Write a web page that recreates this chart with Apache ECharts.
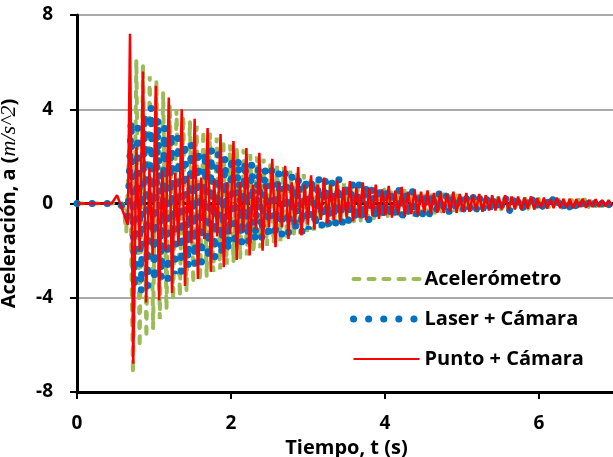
<!DOCTYPE html>
<html>
<head>
    <meta charset="utf-8">
    <script src="https://cdn.jsdelivr.net/npm/echarts@6.0.0/dist/echarts.min.js"></script>
</head>
<body style="margin:0">
    <div id="main" style="width:613px;height:457px;"></div>
    <script type="text/javascript">
        // ticks / names
        var xTicks = [0, 2, 4, 6];
        var yTicks = [-8, -4, 0, 4, 8];
        var seriesNames = ['Acelerómetro', 'Laser + Cámara', 'Punto + Cámara'];

        // Acelerómetro: flat start, then extrema sampled every accelStep s
        var accelLead = [[0, 0], [0.6, 0]];
        var accelStart = 0.64, accelStep = 0.0435;
        var accelPeaks = [
            -1.2, 3.0, -7.2, 6.1, -6.1, 5.9, -5.7, 5.4, -5.3, 5.2, -4.9, 4.7,
            -4.5, 4.2, -4.1, 4.0, -3.95, 3.7, -3.75, 3.5, -3.4, 3.3, -3.3, 3.1,
            -3.1, 3.0, -2.9, 2.8, -2.8, 2.7, -2.6, 2.5, -2.5, 2.4, -2.3, 2.3,
            -2.2, 2.1, -2.1, 2.0, -1.9, 1.9, -1.8, 1.7, -1.7, 1.6, -1.6, 1.55,
            -1.5, 1.4, -1.4, 1.3, -1.3, 1.25, -1.2, 1.1, -1.15, 1.1, -1.05, 1.0,
            -1.0, 0.95, -0.95, 1.0, -0.9, 0.85, -0.85, 0.9, -0.8, 0.8, -0.75, 0.7,
            -0.75, 0.7, -0.7, 0.65, -0.65, 0.7, -0.6, 0.6, -0.6, 0.55, -0.55, 0.6,
            -0.5, 0.5, -0.55, 0.5, -0.5, 0.45, -0.45, 0.5, -0.45, 0.4, -0.4, 0.45,
            -0.4, 0.4, -0.35, 0.4, -0.35, 0.35, -0.35, 0.3, -0.3, 0.35, -0.3, 0.3,
            -0.3, 0.3, -0.25, 0.3, -0.28, 0.25, -0.25, 0.28, -0.25, 0.25, -0.22, 0.25,
            -0.22, 0.22, -0.2, 0.25, -0.22, 0.2, -0.2, 0.22, -0.2, 0.2, -0.18, 0.2,
            -0.2, 0.18, -0.18, 0.2, -0.18, 0.18, -0.15, 0.18, -0.16, 0.16, -0.15, 0.15,
            -0.15, 0.15
        ];

        // Laser + Cámara
        var laserLead = [[0, 0], [0.55, 0], [0.62, -0.25]];
        var laserStart = 0.66, laserStep = 0.0435;
        var laserPeaks = [
            -0.6, 3.5, -3.6, 3.2, -3.75, 3.8, -3.5, 4.1, -3.3, 3.6, -3.2, 3.25,
            -3.2, 3.0, -3.0, 2.8, -2.9, 2.6, -2.7, 2.5, -2.6, 2.3, -2.5, 2.2,
            -2.4, 2.3, -2.3, 2.1, -2.2, 1.95, -2.0, 2.0, -1.8, 1.9, -1.7, 1.8,
            -1.7, 1.7, -1.6, 1.6, -1.5, 1.5, -1.5, 1.4, -1.45, 1.35, -1.3, 1.3,
            -1.25, 1.2, -1.2, 1.1, -1.25, 1.1, -1.1, 1.05, -1.0, 1.1, -0.95, 1.0,
            -0.95, 0.9, -0.9, 1.05, -0.85, 0.85, -0.8, 0.9, -0.75, 0.85, -0.7, 0.8,
            -0.7, 0.7, -0.65, 0.75, -0.6, 0.65, -0.6, 0.6, -0.55, 0.6, -0.55, 0.55,
            -0.55, 0.5, -0.6, 0.5, -0.45, 0.45, -0.5, 0.45, -0.4, 0.5, -0.4, 0.4,
            -0.4, 0.35, -0.35, 0.4, -0.35, 0.3, -0.3, 0.35, -0.3, 0.3, -0.3, 0.3,
            -0.3, 0.28, -0.3, 0.25, -0.25, 0.25, -0.3, 0.22, -0.22, 0.25, -0.2, 0.2,
            -0.22, 0.2, -0.2, 0.22, -0.18, 0.2, -0.2, 0.18, -0.18, 0.2, -0.16, 0.18,
            -0.16, 0.16, -0.15, 0.18, -0.15, 0.15, -0.14, 0.15, -0.14, 0.14, -0.12, 0.14,
            -0.12, 0.12
        ];

        // Punto + Cámara
        var puntoLead = [[0, 0], [0.45, 0], [0.52, 0.35], [0.56, 0], [0.66, -0.9]];
        var puntoStart = 0.688, puntoStep = 0.042;
        var puntoPeaks = [
            7.2, -6.8, 2.4, -2.0,   5.6, -4.2, 1.5, -2.2,   5.0, -4.1, 1.4, -2.0,
            4.5, -3.8, 1.3, -1.8,   4.0, -3.5, 1.2, -1.7,   3.6, -3.2, 1.1, -1.5,
            3.2, -2.9, 1.0, -1.4,   2.95, -2.7, 0.9, -1.3,  2.65, -2.4, 0.9, -1.2,
            2.35, -2.2, 0.8, -1.1,  2.15, -2.0, 0.8, -1.0,  1.9, -1.85, 0.9, -1.0,
            1.6, -1.5, 0.9, -0.9,   1.55, -1.35, 0.8, -0.9, 1.2, -1.1, 0.8, -0.7,
            1.1, -0.85, 0.8, -0.7,  1.0, -0.8, 0.7, -0.6,   0.95, -0.75, 0.7, -0.6,
            0.9, -0.7, 0.65, -0.55, 0.8, -0.65, 0.6, -0.5,  0.75, -0.6, 0.55, -0.5,
            0.7, -0.55, 0.5, -0.45, 0.6, -0.5, 0.5, -0.4,   0.55, -0.45, 0.45, -0.4,
            0.5, -0.4, 0.4, -0.35,  0.5, -0.4, 0.4, -0.35,  0.45, -0.35, 0.35, -0.3,
            0.4, -0.35, 0.35, -0.3, 0.35, -0.3, 0.3, -0.25, 0.35, -0.3, 0.3, -0.25,
            0.3, -0.25, 0.25, -0.22, 0.3, -0.25, 0.22, -0.2, 0.25, -0.22, 0.2, -0.2,
            0.25, -0.2, 0.2, -0.18, 0.2, -0.2, 0.18, -0.15, 0.2, -0.18, 0.15, -0.15,
            0.18, -0.15, 0.15, -0.12, 0.15, -0.12
        ];

        function buildSeries(lead, start, step, peaks) {
            var out = lead.slice();
            for (var i = 0; i < peaks.length; i++) {
                out.push([+(start + i * step).toFixed(4), peaks[i]]);
            }
            return out;
        }

        var font = 'Open Sans';
        var myChart = echarts.init(document.getElementById('main'));

        var greenLine = { color: '#9BBB59', width: 4, type: [6, 9], cap: 'round' };
        var blueLine = { color: '#0070C0', width: 7, type: [0.1, 15], cap: 'round' };
        var redLine = { color: '#FF0000', width: 2.5, type: 'solid' };
        var noSymbol = { color: 'rgba(0,0,0,0)', borderWidth: 0, opacity: 0 };

        var option = {
            animation: false,
            backgroundColor: '#fff',
            grid: { left: 77, top: 15, width: 539, height: 377, outerBoundsMode: 'none' },
            legend: {
                orient: 'vertical',
                left: 345,
                top: 261,
                itemWidth: 66,
                itemHeight: 14,
                itemGap: 14,
                selectedMode: false,
                itemStyle: noSymbol,
                textStyle: { fontFamily: font, fontWeight: 'bold', fontSize: 20, color: '#000', lineHeight: 26 },
                data: [
                    { name: seriesNames[0], lineStyle: greenLine, itemStyle: noSymbol },
                    { name: seriesNames[1], lineStyle: blueLine, itemStyle: noSymbol },
                    { name: seriesNames[2], lineStyle: { color: '#FF0000', width: 2 }, itemStyle: noSymbol }
                ]
            },
            xAxis: [{
                type: 'value',
                min: 0, max: 7, interval: 2,
                name: 'Tiempo, t (s)',
                nameLocation: 'middle',
                nameGap: 42,
                nameTextStyle: { fontFamily: font, fontWeight: 'bold', fontSize: 20, color: '#000' },
                axisLine: { onZero: false, lineStyle: { color: '#000', width: 3 } },
                axisTick: { show: true, length: 7, lineStyle: { color: '#000', width: 2 } },
                axisLabel: {
                    margin: 22, showMaxLabel: false,
                    fontFamily: font, fontWeight: 'bold', fontSize: 19, color: '#000'
                },
                splitLine: { show: false }
            }, {
                type: 'value',
                position: 'top',
                min: 0, max: 7,
                axisLine: { show: true, lineStyle: { color: '#000', width: 3 } },
                axisTick: { show: false },
                axisLabel: { show: false },
                splitLine: { show: false }
            }],
            yAxis: {
                type: 'value',
                min: -8, max: 8, interval: 4,
                name: '{b|Aceleración, a }{b|(}{i|m/s^2}{b|)}',
                nameLocation: 'middle',
                nameGap: 57,
                nameTextStyle: {
                    rich: {
                        b: { fontFamily: font, fontWeight: 'bold', fontSize: 20, color: '#000' },
                        i: { fontFamily: 'Liberation Serif', fontStyle: 'italic', fontSize: 22, color: '#000' }
                    }
                },
                axisLine: { onZero: false, lineStyle: { color: '#000', width: 3 } },
                axisTick: { show: true, length: 7, lineStyle: { color: '#000', width: 2 } },
                axisLabel: {
                    margin: 24,
                    fontFamily: font, fontWeight: 'bold', fontSize: 19, color: '#000'
                },
                splitLine: { show: true, lineStyle: { color: '#8C8C8C', width: 1.5 } }
            },
            series: [{
                name: seriesNames[0],
                type: 'line',
                symbol: 'none',
                lineStyle: greenLine,
                data: buildSeries(accelLead, accelStart, accelStep, accelPeaks)
            }, {
                name: seriesNames[1],
                type: 'line',
                symbol: 'none',
                lineStyle: blueLine,
                data: buildSeries(laserLead, laserStart, laserStep, laserPeaks)
            }, {
                name: seriesNames[2],
                type: 'line',
                symbol: 'none',
                lineStyle: redLine,
                data: buildSeries(puntoLead, puntoStart, puntoStep, puntoPeaks)
            }]
        };

        myChart.setOption(option);
    </script>
</body>
</html>
